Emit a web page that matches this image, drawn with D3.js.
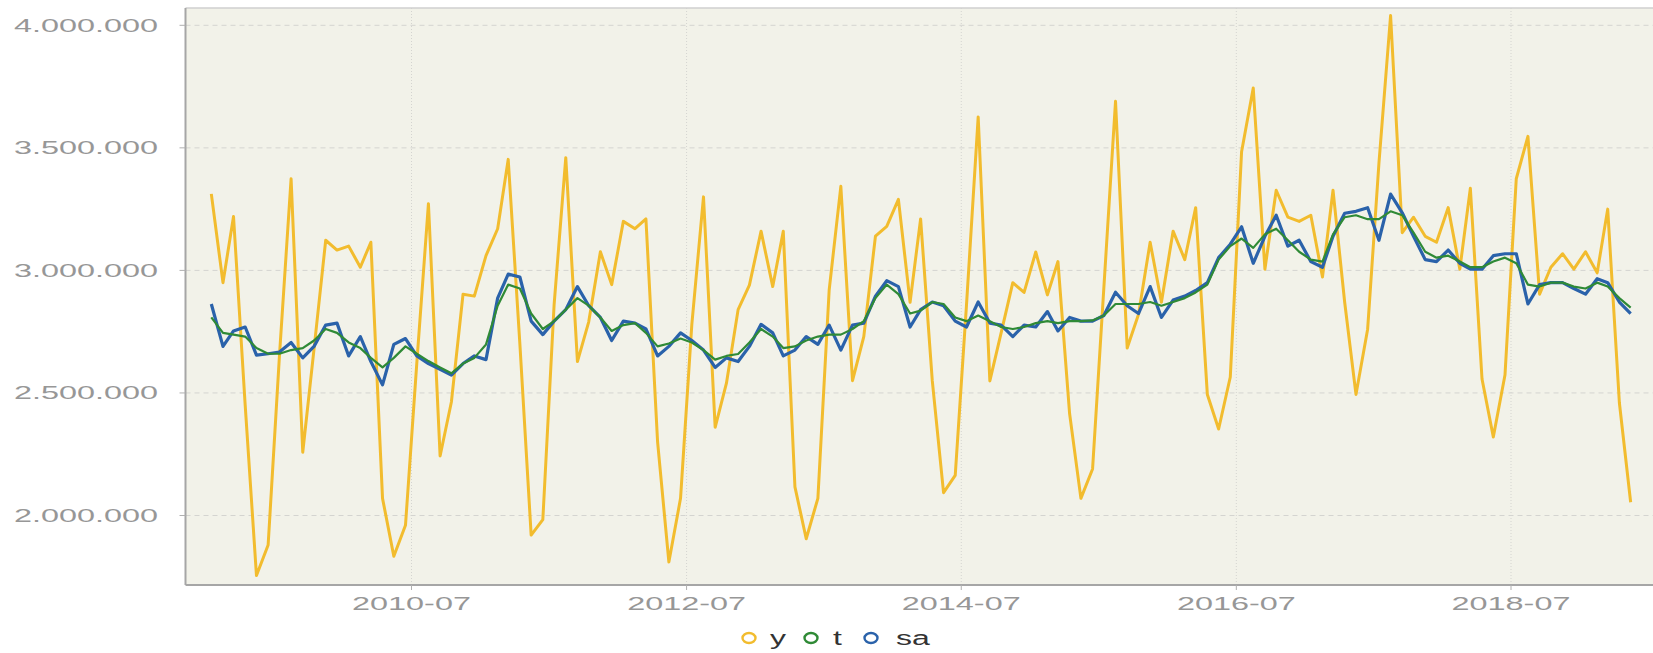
<!DOCTYPE html>
<html><head><meta charset="utf-8">
<script src="https://cdn.jsdelivr.net/npm/d3@7"></script>
<style>html,body{margin:0;padding:0;background:#fff;}svg{display:block;}</style>
</head><body>
<svg id="c" width="1653" height="653"></svg>
<script>
const startMonth = "2009-01";
const endMonth = "2019-06"; // exclusive
const seriesNames = ["y","t","sa"];
const xTickLabels = ["2010-07","2012-07","2014-07","2016-07","2018-07"];
const yTickValues = [2000000,2500000,3000000,3500000,4000000];

const yVals = [3312,2950,3220,2450,1755,1880,2650,3374,2258,2680,3123,3083,3099,3013,3115,2070,1834,1960,2620,3272,
2243,2463,2903,2895,3060,3170,3453,2700,1920,1983,2860,3460,2628,2790,3076,2942,3200,3170,3210,2300,
1810,2070,2780,3300,2360,2540,2840,2940,3160,2934,3160,2117,1905,2070,2920,3343,2550,2730,3140,3180,
3290,2870,3210,2550,2093,2164,2860,3626,2549,2745,2950,2910,3075,2900,3036,2415,2070,2190,2930,3690,
2683,2820,3115,2870,3160,3044,3256,2494,2353,2565,3484,3744,3005,3327,3217,3200,3225,2973,3327,2870,
2494,2760,3437,4040,3154,3217,3139,3115,3256,3005,3335,2557,2320,2573,3374,3547,2903,3013,3068,3005,
3076,2990,3250,2460,2054].map(v=>v*1000);

const tVals = [2808,2745,2738,2730,2683,2660,2660,2675,2683,2714,2761,2745,2706,2683,2643,2604,2643,2690,2660,2630,
2604,2580,2620,2643,2698,2856,2942,2926,2824,2761,2793,2840,2887,2856,2808,2753,2777,2785,2745,2690,
2702,2722,2706,2675,2636,2651,2659,2706,2761,2730,2683,2690,2714,2730,2738,2738,2761,2793,2887,2942,
2903,2824,2836,2871,2863,2808,2793,2816,2793,2769,2761,2769,2785,2793,2785,2793,2793,2796,2816,2863,
2863,2863,2871,2856,2871,2887,2910,2942,3044,3099,3130,3092,3147,3170,3123,3076,3044,3036,3147,3217,
3225,3209,3209,3241,3225,3154,3076,3052,3060,3036,3013,3013,3036,3052,3029,2942,2934,2950,2950,2934,
2926,2950,2934,2887,2848].map(v=>v*1000);

const saVals = [2863,2690,2753,2769,2654,2660,2667,2706,2643,2690,2777,2785,2651,2730,2628,2533,2698,2722,2651,2620,
2596,2573,2620,2651,2636,2887,2985,2973,2793,2738,2793,2840,2934,2856,2808,2714,2793,2785,2761,2651,
2690,2745,2714,2675,2604,2643,2628,2690,2780,2745,2651,2675,2730,2698,2777,2675,2777,2785,2895,2958,
2934,2769,2840,2871,2856,2793,2769,2871,2785,2777,2730,2777,2769,2832,2753,2808,2793,2793,2816,2911,
2856,2824,2934,2808,2879,2895,2918,2950,3052,3107,3178,3029,3139,3225,3099,3123,3036,3013,3139,3233,
3241,3256,3123,3311,3235,3139,3044,3036,3083,3029,3005,3005,3060,3068,3068,2863,2942,2950,2950,2926,
2903,2966,2950,2871,2824].map(v=>v*1000);

const colors = {y:"#f2bc2e", t:"#2f8a36", sa:"#2a62aa"};

const parseM = d3.timeParse("%Y-%m");
const months = d3.timeMonth.range(parseM(startMonth), parseM(endMonth)).map(d=>d3.timeDay.offset(d,14));
const tickDates = xTickLabels.map(parseM);

const svg = d3.select("#c");
const L = 185.5, R = 1653, T = 8, B = 585;

const base = d3.scaleTime().domain([tickDates[0], tickDates[tickDates.length-1]]).range([411.5,1511]);
const x = d3.scaleTime().domain([base.invert(L), base.invert(R)]).range([L,R]);
const y = d3.scaleLinear().domain([2000000,4000000]).range([515.5,25.3]);

const locale = d3.formatLocale({decimal:",", thousands:".", grouping:[3], currency:["",""]});
const fmt = locale.format(",d");

svg.append("rect").attr("x",L).attr("y",T).attr("width",R-L).attr("height",B-T).attr("fill","#f2f2e9");

// grid
svg.append("g").selectAll("line").data(yTickValues).join("line")
  .attr("x1",L).attr("x2",R).attr("y1",d=>y(d)).attr("y2",d=>y(d))
  .attr("stroke","#d4d4d0").attr("stroke-width",1).attr("stroke-dasharray","5,4");
svg.append("g").selectAll("line").data(tickDates).join("line")
  .attr("x1",d=>x(d)).attr("x2",d=>x(d)).attr("y1",T).attr("y2",B)
  .attr("stroke","#d4d4d0").attr("stroke-width",1).attr("stroke-dasharray","1,2");

// frame
svg.append("line").attr("x1",L).attr("x2",R).attr("y1",T).attr("y2",T).attr("stroke","#cfcfcf").attr("stroke-width",1.5);
svg.append("line").attr("x1",L).attr("x2",L).attr("y1",T).attr("y2",B).attr("stroke","#a6a6a6").attr("stroke-width",2);
svg.append("line").attr("x1",L).attr("x2",R).attr("y1",B).attr("y2",B).attr("stroke","#a6a6a6").attr("stroke-width",2);

// y axis ticks + labels
const ya = svg.append("g");
ya.selectAll("line").data(yTickValues).join("line")
  .attr("x1",L-6).attr("x2",L).attr("y1",d=>y(d)).attr("y2",d=>y(d)).attr("stroke","#b0b0b0").attr("stroke-width",1);
ya.selectAll("g").data(yTickValues).join("g")
  .attr("transform",d=>`translate(158,${y(d)}) scale(1.8,1)`)
  .append("text").attr("text-anchor","end").attr("dy","0.36em")
  .attr("font-family","Liberation Sans, Arial, sans-serif").attr("font-size",18).attr("fill","#979797")
  .text(d=>fmt(d));

// x axis ticks + labels
const xa = svg.append("g");
xa.selectAll("line").data(tickDates).join("line")
  .attr("x1",d=>x(d)).attr("x2",d=>x(d)).attr("y1",B).attr("y2",B+5).attr("stroke","#b0b0b0").attr("stroke-width",1);
xa.selectAll("g").data(tickDates).join("g")
  .attr("transform",d=>`translate(${x(d)},610) scale(1.8,1)`)
  .append("text").attr("text-anchor","middle")
  .attr("font-family","Liberation Sans, Arial, sans-serif").attr("font-size",18).attr("fill","#979797")
  .text((d,i)=>xTickLabels[i]);

// lines
const line = d3.line().x((d,i)=>x(months[i])).y(d=>y(d));
const plot = svg.append("g");
plot.append("path").datum(yVals).attr("d",line).attr("fill","none").attr("stroke",colors.y).attr("stroke-width",3).attr("stroke-linejoin","round");
plot.append("path").datum(saVals).attr("d",line).attr("fill","none").attr("stroke",colors.sa).attr("stroke-width",3.2).attr("stroke-linejoin","round");
plot.append("path").datum(tVals).attr("d",line).attr("fill","none").attr("stroke",colors.t).attr("stroke-width",2.2).attr("stroke-linejoin","round");

// legend
const legX = [749, 811, 871];
const legTX = [770, 833, 896];
const lg = svg.append("g");
seriesNames.forEach((n,i)=>{
  lg.append("ellipse").attr("cx",legX[i]).attr("cy",638).attr("rx",6.5).attr("ry",5)
    .attr("fill","none").attr("stroke",colors[n]).attr("stroke-width",2.4);
  lg.append("g").attr("transform",`translate(${legTX[i]},645) scale(1.6,1)`)
    .append("text").attr("font-family","Liberation Sans, Arial, sans-serif").attr("font-size",20)
    .attr("fill","#333").text(n);
});
</script>
</body></html>
